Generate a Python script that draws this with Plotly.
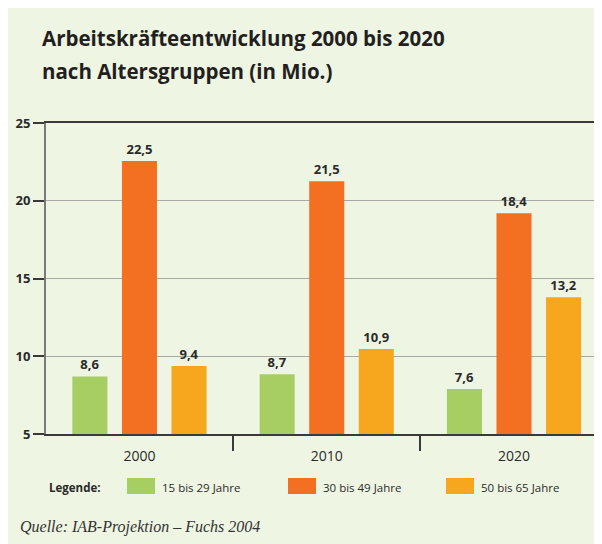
import plotly.graph_objects as go

# ---- data ----
years = ["2000", "2010", "2020"]
series_names = ["15 bis 29 Jahre", "30 bis 49 Jahre", "50 bis 65 Jahre"]
# printed values (labels above bars)
values_15_29 = [8.6, 8.7, 7.6]
values_30_49 = [22.5, 21.5, 18.4]
values_50_65 = [9.4, 10.9, 13.2]
# bar heights as drawn in the picture
heights_15_29 = [8.7, 8.85, 7.9]
heights_30_49 = [22.55, 21.25, 19.2]
heights_50_65 = [9.37, 10.47, 13.8]
y_ticks = [5, 10, 15, 20, 25]

colors = ["#A6CE62", "#F37022", "#F7A71E"]
BG = "#EEF5E3"
TXT = "#2a2a2a"
FONT = "Open Sans"

OFF = 8  # page body margin
W, H = 602 - OFF, 544 - OFF
L, R, T, B = 46 - OFF, 0, 123 - OFF, 110
PW, PH = W - L - R, H - T - B


def px(x):  # page x -> paper
    return (x - OFF - L) / PW


def py(y):  # page y -> paper
    return (H - B - (y - OFF)) / PH


def fmt(v):
    return f"{v:.1f}".replace(".", ",")


fig = go.Figure()
for name, h, v, c in zip(series_names,
                         [heights_15_29, heights_30_49, heights_50_65],
                         [values_15_29, values_30_49, values_50_65],
                         colors):
    fig.add_trace(go.Bar(
        x=years, y=h, name=name, marker=dict(color=c, line=dict(width=0)),
        text=[fmt(t) for t in v], textposition="outside",
        textfont=dict(family=FONT, size=13, color=TXT, weight="bold"),
        constraintext="none", cliponaxis=False, showlegend=False,
        hoverinfo="skip",
    ))

fig.update_layout(
    width=W, height=H,
    margin=dict(l=L, r=R, t=T, b=B, pad=0),
    paper_bgcolor=BG, plot_bgcolor=BG,
    barmode="group", bargap=0.206, bargroupgap=0.293,
    showlegend=False,
    font=dict(family=FONT, color=TXT),
)

fig.update_xaxes(
    type="category", range=[-0.499, 2.47],
    showline=True, linecolor="#3a3a3a", linewidth=1.5, mirror=True,
    ticks="outside", tickson="boundaries", ticklen=15, tickwidth=1.5,
    tickcolor="#3a3a3a", showgrid=False, ticklabelstandoff=8,
    tickfont=dict(family=FONT, size=14, color=TXT),
)
fig.update_yaxes(
    range=[5, 25], tickvals=y_ticks, ticktext=[str(t) for t in y_ticks],
    showline=True, linecolor="#7a7a7a", linewidth=2,
    ticks="outside", ticklen=11, tickwidth=1.5, tickcolor="#3a3a3a",
    showgrid=True, gridcolor="#a8a8a8", gridwidth=1, zeroline=False,
    tickfont=dict(family=FONT, size=13, color=TXT, weight="bold"),
)

shapes = []
annotations = [
    dict(text="Arbeitskräfteentwicklung 2000 bis 2020", x=px(40), y=py(38),
         xref="paper", yref="paper", xanchor="left", yanchor="middle",
         showarrow=False, font=dict(family=FONT, size=20.5, color="#231f20", weight="bold")),
    dict(text="nach Altersgruppen (in Mio.)", x=px(40), y=py(71),
         xref="paper", yref="paper", xanchor="left", yanchor="middle",
         showarrow=False, font=dict(family=FONT, size=20.5, color="#231f20", weight="bold")),
    dict(text="Legende:", x=px(47), y=py(487), xref="paper", yref="paper",
         xanchor="left", yanchor="middle", showarrow=False,
         font=dict(family=FONT, size=11.5, color=TXT, weight="bold")),
    dict(text="Quelle: IAB-Projektion – Fuchs 2004", x=px(18), y=py(527),
         xref="paper", yref="paper", xanchor="left", yanchor="middle",
         showarrow=False,
         font=dict(family="Liberation Serif", size=16, color="#333333", style="italic")),
]
swatch_x = [127, 288, 446]
for name, c, sx in zip(series_names, colors, swatch_x):
    shapes.append(dict(type="rect", xref="paper", yref="paper",
                       x0=px(sx), x1=px(sx + 28), y0=py(494), y1=py(478),
                       fillcolor=c, line=dict(width=0)))
    annotations.append(dict(text=name, x=px(sx + 33), y=py(487), xref="paper",
                            yref="paper", xanchor="left", yanchor="middle",
                            showarrow=False,
                            font=dict(family=FONT, size=11.5, color=TXT)))

fig.update_layout(shapes=shapes, annotations=annotations)
fig.write_html("out.html")
